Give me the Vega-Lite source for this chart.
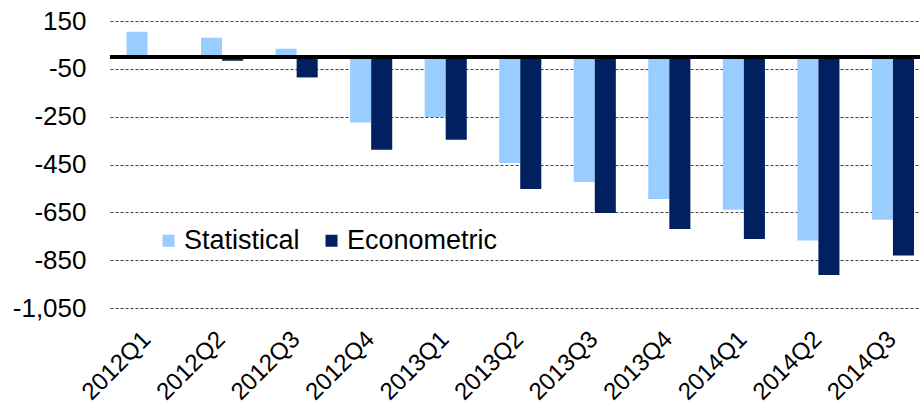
{
  "$schema": "https://vega.github.io/schema/vega-lite/v6.json",
  "autosize": {"type": "none"},
  "padding": {"left": 110, "top": 21, "right": 0, "bottom": 97},
  "width": 810,
  "height": 287,
  "background": "white",
  "config": {
    "view": {"stroke": null},
    "font": "Liberation Sans"
  },
  "data": {
    "values": [
      {"quarter": "2012Q1", "series": "Statistical", "value": 105},
      {"quarter": "2012Q1", "series": "Econometric", "value": 0},
      {"quarter": "2012Q2", "series": "Statistical", "value": 80},
      {"quarter": "2012Q2", "series": "Econometric", "value": -16},
      {"quarter": "2012Q3", "series": "Statistical", "value": 34},
      {"quarter": "2012Q3", "series": "Econometric", "value": -86},
      {"quarter": "2012Q4", "series": "Statistical", "value": -274},
      {"quarter": "2012Q4", "series": "Econometric", "value": -388},
      {"quarter": "2013Q1", "series": "Statistical", "value": -251},
      {"quarter": "2013Q1", "series": "Econometric", "value": -346},
      {"quarter": "2013Q2", "series": "Statistical", "value": -444},
      {"quarter": "2013Q2", "series": "Econometric", "value": -552},
      {"quarter": "2013Q3", "series": "Statistical", "value": -523},
      {"quarter": "2013Q3", "series": "Econometric", "value": -653},
      {"quarter": "2013Q4", "series": "Statistical", "value": -594},
      {"quarter": "2013Q4", "series": "Econometric", "value": -720},
      {"quarter": "2014Q1", "series": "Statistical", "value": -639},
      {"quarter": "2014Q1", "series": "Econometric", "value": -761},
      {"quarter": "2014Q2", "series": "Statistical", "value": -768},
      {"quarter": "2014Q2", "series": "Econometric", "value": -912},
      {"quarter": "2014Q3", "series": "Statistical", "value": -681},
      {"quarter": "2014Q3", "series": "Econometric", "value": -831}
    ]
  },
  "layer": [
    {
      "mark": {"type": "bar"},
      "encoding": {
        "x": {
          "field": "quarter",
          "type": "nominal",
          "sort": null,
          "title": null,
          "scale": {"paddingInner": 0.435, "paddingOuter": 0.151, "align": 0.733},
          "axis": {
            "domain": false,
            "ticks": false,
            "grid": false,
            "labelAngle": -45,
            "labelAlign": "right",
            "labelBaseline": "top",
            "labelFontSize": 24,
            "labelColor": "black",
            "labelPadding": 19,
            "labelOffset": -9,
            "labelFont": "Liberation Sans"
          }
        },
        "xOffset": {
          "field": "series",
          "type": "nominal",
          "sort": ["Statistical", "Econometric"],
          "scale": {"paddingInner": 0, "paddingOuter": 0}
        },
        "y": {
          "field": "value",
          "type": "quantitative",
          "title": null,
          "scale": {"domain": [-1050, 150], "nice": false, "zero": false},
          "axis": {
            "values": [150, -50, -250, -450, -650, -850, -1050],
            "domain": false,
            "ticks": false,
            "grid": true,
            "gridDash": [3, 2],
            "gridColor": "#444444",
            "gridWidth": 1,
            "gridOpacity": 1,
            "labelFontSize": 26,
            "labelColor": "black",
            "labelPadding": 24,
            "labelFont": "Liberation Sans",
            "labelExpr": "datum.value < 0 ? '-' + format(-datum.value, ',') : format(datum.value, ',')"
          }
        },
        "color": {
          "field": "series",
          "type": "nominal",
          "sort": ["Statistical", "Econometric"],
          "scale": {"domain": ["Statistical", "Econometric"], "range": ["#99CCFF", "#002060"]},
          "legend": {
            "title": null,
            "orient": "none",
            "direction": "horizontal",
            "legendX": 45,
            "legendY": 206,
            "symbolType": "square",
            "symbolSize": 144,
            "symbolStrokeWidth": 0,
            "symbolOpacity": 1,
            "labelFontSize": 27,
            "labelColor": "black",
            "labelFont": "Liberation Sans",
            "labelOffset": 2,
            "columnPadding": 18
          }
        }
      }
    },
    {
      "mark": {"type": "rule", "color": "black", "strokeWidth": 4},
      "encoding": {"y": {"datum": 0}}
    }
  ]
}
